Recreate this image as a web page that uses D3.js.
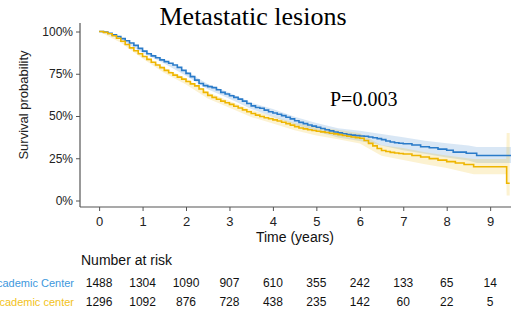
<!DOCTYPE html>
<html>
<head>
<meta charset="utf-8">
<script src="https://cdn.jsdelivr.net/npm/d3@7"></script>
<style>
  body { margin: 0; background: #fff; }
  svg { display: block; }
</style>
</head>
<body>
<div id="chart"></div>
<script>
// survival curves (time in years, survival in %)
var blueTimes = [0, 0.05, 0.1, 0.2, 0.3, 0.4, 0.5, 0.6, 0.7, 0.8, 0.9, 1.0, 1.1, 1.2, 1.3, 1.4, 1.5, 1.6, 1.7, 1.8, 1.9,
  2.0, 2.1, 2.2, 2.3, 2.4, 2.5, 2.6, 2.7, 2.8, 2.9, 3.0, 3.1, 3.2, 3.3, 3.4, 3.5, 3.6, 3.7, 3.8, 3.9,
  4.0, 4.1, 4.2, 4.3, 4.4, 4.5, 4.6, 4.7, 4.8, 4.9, 5.0, 5.1, 5.2, 5.3, 5.4, 5.5, 5.6, 5.7, 5.8, 5.9,
  6.0, 6.1, 6.2, 6.3, 6.4, 6.5, 6.6, 6.7, 6.8, 6.9, 7.0, 7.2, 7.4, 7.6, 7.8, 8.0, 8.15, 8.45, 8.69, 9.48];
var blueSurv = [100, 100, 99.7, 99, 98, 97, 95.8, 94.5, 93.2, 91.8, 90, 88.4, 86.8, 85.6, 84.5, 83.2, 82.2, 81.2, 80.2, 78.8, 77,
  75.2, 73.3, 71.2, 69.2, 68, 67.4, 66.8, 65.5, 64, 63, 62, 61, 60, 58.8, 57.4, 56, 55, 54.6, 53.5, 52.5,
  51.8, 51, 50.2, 49.3, 48.3, 47.2, 46.2, 45.5, 44.7, 44, 43.3, 42.6, 41.9, 41.2, 40.5, 40, 39.5, 39, 38.7, 38.4,
  38.2, 38, 37.6, 37.1, 36.6, 36, 35.2, 34.6, 34.2, 33.9, 33.6, 32.8, 31.8, 31.2, 30.4, 29.7, 28.6, 28, 26.6, 26.6];

var goldTimes = [0, 0.05, 0.1, 0.2, 0.3, 0.4, 0.5, 0.6, 0.7, 0.8, 0.9, 1.0, 1.1, 1.2, 1.3, 1.4, 1.5, 1.6, 1.7, 1.8, 1.9,
  2.0, 2.1, 2.2, 2.3, 2.4, 2.5, 2.6, 2.7, 2.8, 2.9, 3.0, 3.1, 3.2, 3.3, 3.4, 3.5, 3.6, 3.7, 3.8, 3.9,
  4.0, 4.1, 4.2, 4.3, 4.4, 4.5, 4.6, 4.7, 4.8, 4.9, 5.0, 5.1, 5.2, 5.3, 5.4, 5.5, 5.6, 5.7, 5.8, 5.9,
  6.0, 6.1, 6.2, 6.3, 6.4, 6.5, 6.6, 6.7, 6.8, 6.9, 7.0, 7.2, 7.4, 7.6, 7.8, 8.0, 8.2, 8.4, 8.62, 9.38, 9.45];
var goldSurv = [100, 100, 99.5, 98.7, 97.5, 96, 94.2, 92.3, 90.3, 88.6, 86.8, 85.2, 83.5, 81.8, 80.2, 78.6, 77, 75.6, 74.2, 73, 71.8,
  70.4, 69, 67.8, 66, 64, 62.2, 61, 59.9, 58.8, 57.8, 56.9, 55.8, 54.7, 53.6, 52.5, 51.5, 50.5, 49.7, 49, 48.4,
  47.7, 47, 46.3, 45.5, 44.6, 43.7, 42.9, 42.4, 41.9, 41.4, 41, 40.6, 40.2, 39.8, 39.4, 39, 38.5, 38, 37.6, 37.2,
  36.8, 35.5, 33.8, 32.3, 30.8, 29.6, 29, 28.5, 28.1, 27.8, 27.5, 26.6, 25.7, 24.8, 23.9, 23, 22.2, 21.3, 20, 10.2, 10.2];

// confidence bands
var blueBandTimes = [0, 0.5, 1, 1.5, 2, 2.5, 3, 3.5, 4, 4.5, 5, 5.5, 6, 6.5, 7, 7.5, 8, 8.5, 8.69, 9.48];
var blueLower = [100, 95.2, 87.4, 81, 73.8, 65.8, 60.2, 54.1, 49.5, 44.9, 40.8, 37.3, 35.2, 32.6, 29.8, 27.6, 25.5, 23.6, 22.2, 22.2];
var blueUpper = [100, 96.4, 89.4, 83.4, 76.6, 69, 63.8, 57.9, 54.1, 49.5, 45.8, 42.7, 41.2, 39.4, 37.4, 35.4, 33.9, 32.6, 31.6, 31.6];
var goldBandTimes = [0, 0.5, 1, 1.5, 2, 2.5, 3, 3.5, 4, 4.5, 5, 5.5, 6, 6.5, 7, 7.5, 8, 8.62, 9.37, 9.38, 9.45];
var goldLower = [100, 93.4, 84, 75.5, 68.6, 60.3, 54.9, 49.4, 45.6, 41.5, 38.5, 36.2, 33.8, 26.5, 24, 21.5, 19.3, 15.5, 15.5, 3, 3];
var goldUpper = [100, 95, 86.4, 78.5, 72.2, 64.1, 58.9, 53.6, 49.8, 45.9, 43.5, 41.8, 39.8, 32.7, 31, 28.5, 26.7, 24.5, 24.5, 40, 40];

var yTicks = [0, 25, 50, 75, 100];
var xTicks = [0, 1, 2, 3, 4, 5, 6, 7, 8, 9];
var groups = ["Academic Center", "Non-academic center"];
var riskBlue = [1488, 1304, 1090, 907, 610, 355, 242, 133, 65, 14];
var riskGold = [1296, 1092, 876, 728, 438, 235, 142, 60, 22, 5];

var width = 523, height = 320;
var blue = "#2a7bc9", gold = "#eeb500";

var svg = d3.select("#chart").append("svg")
    .attr("width", width)
    .attr("height", height);

var x = d3.scaleLinear().domain([-0.44, 9.48]).range([80, 511]);
var y = d3.scaleLinear().domain([0, 100]).range([200.5, 31.5]);

// title
svg.append("text")
    .attr("x", 253).attr("y", 25)
    .attr("text-anchor", "middle")
    .style("font-family", "'Liberation Serif', 'Times New Roman', serif")
    .style("font-size", "26px")
    .text("Metastatic lesions");

function zipBand(times, lo, hi) {
  return times.map(function(t, i) { return {t: t, lo: lo[i], hi: hi[i]}; });
}
function zipLine(times, s) {
  return times.map(function(t, i) { return {t: t, s: s[i]}; });
}
var series = [
  {color: blue, band: zipBand(blueBandTimes, blueLower, blueUpper), line: zipLine(blueTimes, blueSurv)},
  {color: gold, band: zipBand(goldBandTimes, goldLower, goldUpper), line: zipLine(goldTimes, goldSurv)}
];

var band = d3.area()
    .x(d => x(d.t))
    .y0(d => y(d.lo))
    .y1(d => y(d.hi));
var line = d3.line()
    .x(d => x(d.t))
    .y(d => y(d.s))
    .curve(d3.curveStepAfter);

svg.append("g").selectAll("path")
    .data(series)
    .enter().append("path")
    .attr("d", d => band(d.band))
    .attr("fill", d => d.color)
    .attr("fill-opacity", 0.18);

svg.append("g").selectAll("path")
    .data(series)
    .enter().append("path")
    .attr("d", d => line(d.line))
    .attr("fill", "none")
    .attr("stroke", d => d.color)
    .attr("stroke-width", 1.6);

// axes
var axisColor = "#555";
var yAxis = svg.append("g")
    .attr("transform", "translate(80,0)")
    .call(d3.axisLeft(y).tickValues(yTicks).tickFormat(d => d + "%").tickSize(4).tickSizeOuter(0));
var xAxis = svg.append("g")
    .attr("transform", "translate(0,207)")
    .call(d3.axisBottom(x).tickValues(xTicks).tickSize(4).tickSizeOuter(0));

[xAxis, yAxis].forEach(function(a) {
  a.select(".domain").attr("stroke", axisColor).attr("stroke-width", 1.2);
  a.selectAll(".tick line").attr("stroke", axisColor);
  a.selectAll("text")
      .style("font-family", "'Liberation Sans', Arial, sans-serif")
      .style("font-size", "12px")
      .attr("fill", "#222");
});
yAxis.select(".domain").attr("d", "M0,23V207");
xAxis.select(".domain").attr("d", "M80,0H511");
xAxis.selectAll("text").attr("dy", "0.9em").style("font-size", "13px");

svg.append("text")
    .attr("transform", "translate(28,105) rotate(-90)")
    .attr("text-anchor", "middle")
    .style("font-family", "'Liberation Sans', Arial, sans-serif")
    .style("font-size", "13px")
    .attr("fill", "#222")
    .text("Survival probability");

svg.append("text")
    .attr("x", 295).attr("y", 242)
    .attr("text-anchor", "middle")
    .style("font-family", "'Liberation Sans', Arial, sans-serif")
    .style("font-size", "14px")
    .attr("fill", "#111")
    .text("Time (years)");

svg.append("text")
    .attr("x", 330).attr("y", 106)
    .style("font-family", "'Liberation Serif', 'Times New Roman', serif")
    .style("font-size", "20px")
    .text("P=0.003");

// number at risk table
svg.append("text")
    .attr("x", 81).attr("y", 265)
    .style("font-family", "'Liberation Sans', Arial, sans-serif")
    .style("font-size", "14px")
    .attr("fill", "#111")
    .text("Number at risk");

var rows = [
  {name: groups[0], color: "#3d98dd", values: riskBlue, y: 287},
  {name: groups[1], color: "#f2c21a", values: riskGold, y: 306}
];
var row = svg.append("g").selectAll("g")
    .data(rows)
    .enter().append("g")
    .style("font-family", "'Liberation Sans', Arial, sans-serif")
    .style("font-size", "12px");
row.append("text")
    .attr("x", 74).attr("y", d => d.y)
    .attr("text-anchor", "end")
    .attr("fill", d => d.color)
    .style("font-size", "11px")
    .text(d => d.name);
row.selectAll(".n")
    .data(d => d.values.map((v, i) => ({v: v, t: xTicks[i], y: d.y})))
    .enter().append("text")
    .attr("class", "n")
    .attr("x", d => x(d.t))
    .attr("y", d => d.y)
    .attr("text-anchor", "middle")
    .attr("fill", "#111")
    .text(d => d.v);
</script>
</body>
</html>
